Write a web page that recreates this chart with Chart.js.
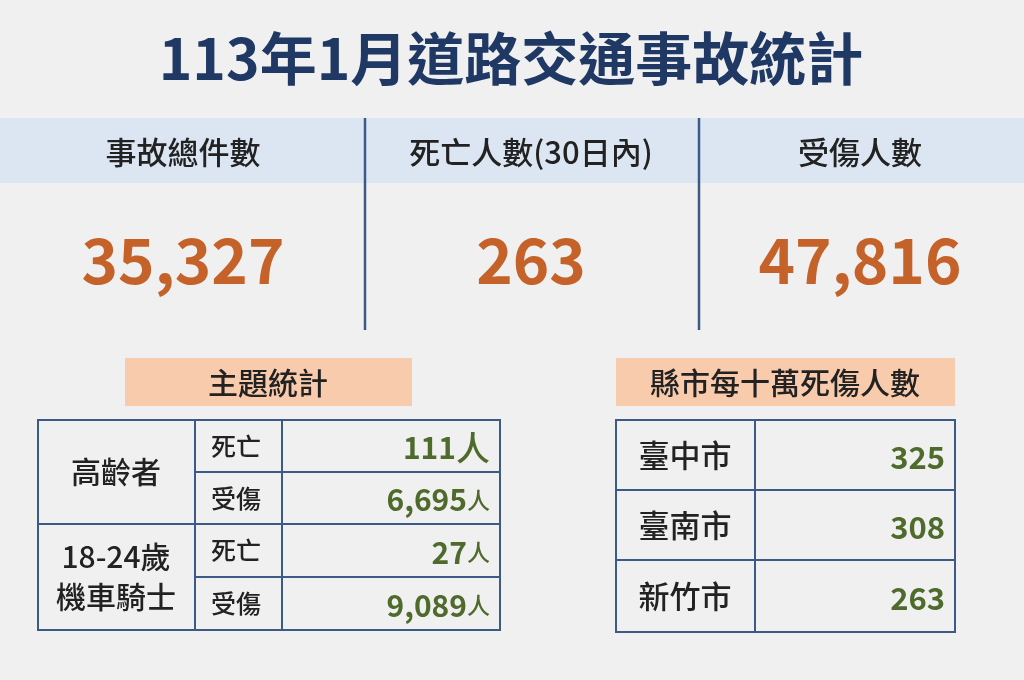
<!DOCTYPE html>
<html><head><meta charset="utf-8">
<script src="https://cdn.jsdelivr.net/npm/chart.js@4"></script>
<style>html,body{margin:0;padding:0;background:#f0f0f0;}canvas{display:block}</style>
</head><body>
<canvas id="c" width="1024" height="680"></canvas>
<script>
const title = "113年1月道路交通事故統計";
const summaryLabels = ["事故總件數", "死亡人數(30日內)", "受傷人數"];
const summaryValues = [35327, 263, 47816];
const themeTitle = "主題統計";
const themeGroups = ["高齡者", "18-24歲\n機車騎士"];
const themeItems = ["死亡", "受傷", "死亡", "受傷"];
const themeValues = [111, 6695, 27, 9089];
const cityTitle = "縣市每十萬死傷人數";
const cities = ["臺中市", "臺南市", "新竹市"];
const cityValues = [325, 308, 263];

const F = '"Noto Sans CJK TC","Noto Sans",sans-serif';
const NAVY = '#3c5a88', GREEN = '#4e6b2c', ORANGE = '#c5622a';

const layoutPlugin = {
  id: 'infographic',
  beforeDraw(chart) {
    const c = chart.ctx;
    c.save();
    c.fillStyle = '#f0f0f0'; c.fillRect(0, 0, 1024, 680);
    c.textAlign = 'center'; c.textBaseline = 'middle';
    c.fillStyle = '#1f3864'; c.font = 'bold 57px ' + F;
    c.fillText(title, 511, 58);
    c.fillStyle = '#dce6f2'; c.fillRect(0, 118, 1024, 65);
    const cx = [183, 531, 860];
    summaryLabels.forEach((l, i) => {
      c.fillStyle = '#222'; c.font = '500 31px ' + F; c.fillText(l, cx[i], 152);
      c.fillStyle = ORANGE; c.font = 'bold 62px ' + F;
      c.fillText(summaryValues[i].toLocaleString('en-US'), cx[i], 260);
    });
    c.strokeStyle = NAVY; c.lineWidth = 2.5;
    [365, 699].forEach(x => { c.beginPath(); c.moveTo(x, 118); c.lineTo(x, 330); c.stroke(); });
    c.fillStyle = '#f8cbad';
    c.fillRect(125, 358, 287, 48); c.fillRect(616, 358, 339, 48);
    c.fillStyle = '#222'; c.font = '500 30px ' + F;
    c.fillText(themeTitle, 268, 383); c.fillText(cityTitle, 785, 383);
    c.strokeStyle = NAVY; c.lineWidth = 2;
    const ly = [420, 472, 524, 577, 630];
    c.strokeRect(38, 420, 462, 210);
    const line = (x1, y1, x2, y2) => { c.beginPath(); c.moveTo(x1, y1); c.lineTo(x2, y2); c.stroke(); };
    line(195, 420, 195, 630); line(282, 420, 282, 630);
    line(38, 524, 500, 524); line(195, 472, 500, 472); line(195, 577, 500, 577);
    c.fillStyle = '#222'; c.font = '500 30px ' + F;
    themeGroups.forEach((g, i) => {
      const parts = g.split('\n'); const my = (ly[i * 2] + ly[i * 2 + 2]) / 2;
      parts.forEach((p, j) => c.fillText(p, 116, my + (j - (parts.length - 1) / 2) * 40));
    });
    themeItems.forEach((t, i) => {
      const my = (ly[i] + ly[i + 1]) / 2;
      c.fillStyle = '#222'; c.font = '500 25px ' + F; c.textAlign = 'center';
      c.fillText(t, 236, my);
      c.fillStyle = GREEN; c.textAlign = 'right';
      const big = i === 0;
      c.font = (big ? '500 34px ' : '500 23px ') + F;
      const uw = c.measureText('人').width;
      c.fillText('人', 490, my + 2);
      c.font = 'bold 30px ' + F;
      c.fillText(themeValues[i].toLocaleString('en-US'), 490 - uw, my + 2);
    });
    c.textAlign = 'center';
    c.strokeRect(616, 420, 339, 212);
    line(755, 420, 755, 632);
    const ry = [420, 490, 560, 632];
    line(616, 490, 955, 490); line(616, 560, 955, 560);
    cities.forEach((n, i) => {
      const my = (ry[i] + ry[i + 1]) / 2;
      c.fillStyle = '#222'; c.font = '500 31px ' + F; c.textAlign = 'center';
      c.fillText(n, 685, my);
      c.fillStyle = GREEN; c.font = 'bold 31px ' + F; c.textAlign = 'right';
      c.fillText(String(cityValues[i]), 945, my + 2);
    });
    c.restore();
  }
};

new Chart(document.getElementById('c'), {
  type: 'bar',
  data: { labels: [], datasets: [] },
  options: {
    responsive: false, animation: false,
    plugins: { legend: { display: false }, tooltip: { enabled: false } },
    scales: { x: { display: false }, y: { display: false } }
  },
  plugins: [layoutPlugin]
});
</script>
</body></html>
